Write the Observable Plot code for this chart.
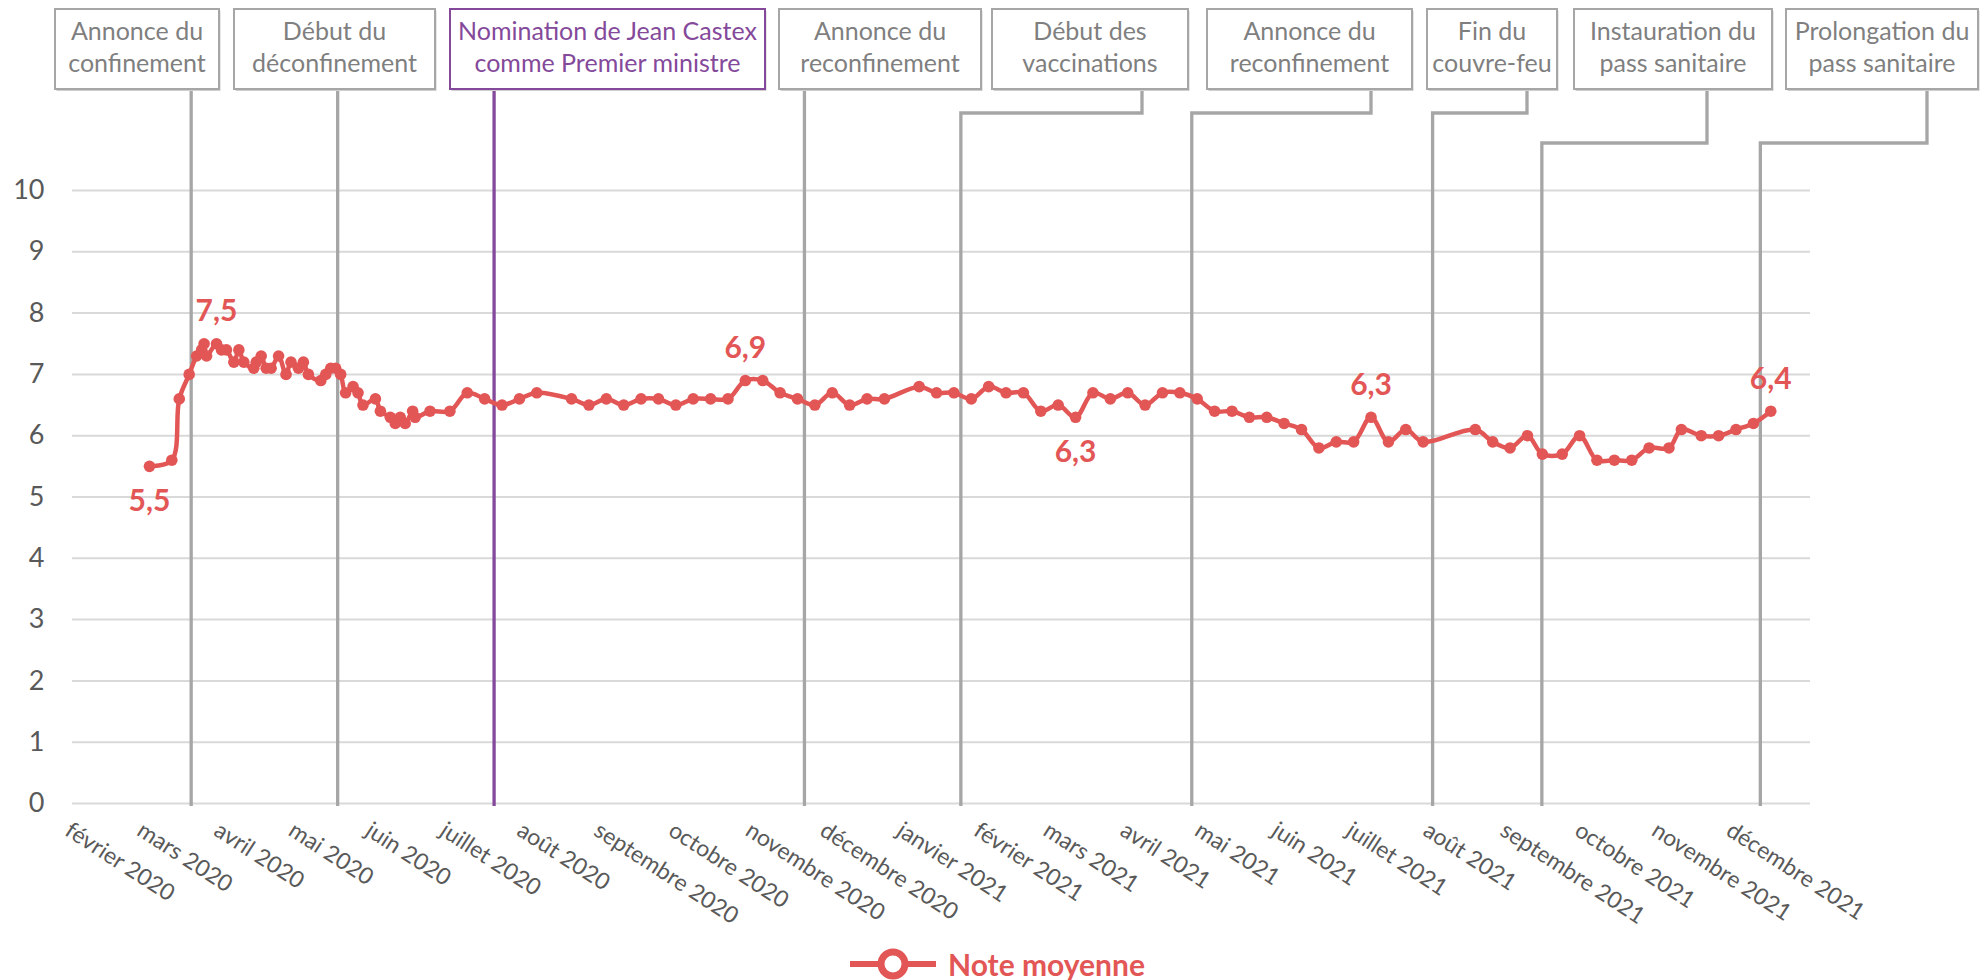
<!DOCTYPE html>
<html>
<head>
<meta charset="utf-8">
<script src="https://cdn.jsdelivr.net/npm/d3@7"></script>
<script src="https://cdn.jsdelivr.net/npm/@observablehq/plot@0.6"></script>
<style>
  html, body { margin: 0; padding: 0; background: #fff; }
  body { width: 1981px; height: 980px; position: relative; overflow: hidden; font-family: Lato, sans-serif; }
  #chart svg { display: block; }
  #legend { position: absolute; left: 850px; top: 947px; display: flex; align-items: center; height: 34px; }
  #legend span { margin-left: 12px; font: bold 30px Lato, sans-serif; color: #E35656; line-height: 34px; }
</style>
</head>
<body>
<div id="chart"></div>
<div id="legend"></div>
<script>
// ---------- data ----------
const dates = [
  "2020-03-03","2020-03-12","2020-03-15","2020-03-19","2020-03-22","2020-03-24","2020-03-25","2020-03-26","2020-03-30",
  "2020-04-01","2020-04-03","2020-04-06","2020-04-08","2020-04-10","2020-04-14","2020-04-15","2020-04-17","2020-04-19","2020-04-21","2020-04-24","2020-04-27","2020-04-29",
  "2020-05-02","2020-05-04","2020-05-06","2020-05-11","2020-05-13","2020-05-15","2020-05-17","2020-05-19","2020-05-21","2020-05-24","2020-05-26","2020-05-28",
  "2020-06-02","2020-06-04","2020-06-08","2020-06-10","2020-06-12","2020-06-14","2020-06-17","2020-06-18","2020-06-24",
  "2020-07-02","2020-07-09","2020-07-16","2020-07-23","2020-07-30",
  "2020-08-06","2020-08-20","2020-08-27",
  "2020-09-03","2020-09-10","2020-09-17","2020-09-24",
  "2020-10-01","2020-10-08","2020-10-15","2020-10-22","2020-10-29",
  "2020-11-05","2020-11-12","2020-11-19","2020-11-26",
  "2020-12-03","2020-12-10","2020-12-17","2020-12-24",
  "2021-01-07","2021-01-14","2021-01-21","2021-01-28",
  "2021-02-04","2021-02-11","2021-02-18","2021-02-25",
  "2021-03-04","2021-03-11","2021-03-18","2021-03-25",
  "2021-04-01","2021-04-08","2021-04-15","2021-04-22","2021-04-29",
  "2021-05-06","2021-05-13","2021-05-20","2021-05-27",
  "2021-06-03","2021-06-10","2021-06-17","2021-06-24",
  "2021-07-01","2021-07-08","2021-07-15","2021-07-22","2021-07-29",
  "2021-08-19","2021-08-26",
  "2021-09-02","2021-09-09","2021-09-15","2021-09-23","2021-09-30",
  "2021-10-07","2021-10-14","2021-10-21","2021-10-28",
  "2021-11-05","2021-11-10","2021-11-18","2021-11-25",
  "2021-12-02","2021-12-09","2021-12-16"
];
const values = [
  5.5,5.6,6.6,7.0,7.3,7.4,7.5,7.3,7.5,
  7.4,7.4,7.2,7.4,7.2,7.1,7.2,7.3,7.1,7.1,7.3,7.0,7.2,
  7.1,7.2,7.0,6.9,7.0,7.1,7.1,7.0,6.7,6.8,6.7,6.5,
  6.6,6.4,6.3,6.2,6.3,6.2,6.4,6.3,6.4,
  6.4,6.7,6.6,6.5,6.6,
  6.7,6.6,6.5,
  6.6,6.5,6.6,6.6,
  6.5,6.6,6.6,6.6,6.9,
  6.9,6.7,6.6,6.5,
  6.7,6.5,6.6,6.6,
  6.8,6.7,6.7,6.6,
  6.8,6.7,6.7,6.4,
  6.5,6.3,6.7,6.6,
  6.7,6.5,6.7,6.7,6.6,
  6.4,6.4,6.3,6.3,
  6.2,6.1,5.8,5.9,
  5.9,6.3,5.9,6.1,5.9,
  6.1,5.9,
  5.8,6.0,5.7,5.7,6.0,
  5.6,5.6,5.6,5.8,
  5.8,6.1,6.0,6.0,
  6.1,6.2,6.4
];
const seriesName = "Note moyenne";

// labelled points (value shown above or below the point)
const labelDates = ["2020-03-03","2020-03-30","2020-10-29","2021-03-11","2021-07-08","2021-12-16"];
const labelAbove = [false, true, true, false, true, true];

// x-axis tick labels
const monthTicks = [
  "2020-02-01","2020-03-01","2020-04-01","2020-05-01","2020-06-01","2020-07-01","2020-08-01","2020-09-01","2020-10-01","2020-11-01","2020-12-01",
  "2021-01-01","2021-02-01","2021-03-01","2021-04-01","2021-05-01","2021-06-01","2021-07-01","2021-08-01","2021-09-01","2021-10-01","2021-11-01","2021-12-01"
];
const monthLabels = [
  "février 2020","mars 2020","avril 2020","mai 2020","juin 2020","juillet 2020","août 2020","septembre 2020","octobre 2020","novembre 2020","décembre 2020",
  "janvier 2021","février 2021","mars 2021","avril 2021","mai 2021","juin 2021","juillet 2021","août 2021","septembre 2021","octobre 2021","novembre 2021","décembre 2021"
];
const yTicks = [0,1,2,3,4,5,6,7,8,9,10];

// events
const eventDates = ["2020-03-20","2020-05-18","2020-07-20","2020-11-22","2021-01-24","2021-04-27","2021-08-02","2021-09-15","2021-12-12"];
const eventLine1 = ["Annonce du","Début du","Nomination de Jean Castex","Annonce du","Début des","Annonce du","Fin du","Instauration du","Prolongation du"];
const eventLine2 = ["confinement","déconfinement","comme Premier ministre","reconfinement","vaccinations","reconfinement","couvre-feu","pass sanitaire","pass sanitaire"];
const eventHighlight = [false,false,true,false,false,false,false,false,false];

// ---------- layout / style (pixels) ----------
const W = 1981, H = 935;
const RED = "#E35656", GREY_LINE = "#A6A6A6", GREY_TEXT = "#7F7F7F", PURPLE = "#84499A", AXIS_TEXT = "#595959", GRID = "#D9D9D9";
// [boxLeft, boxRight, connectorX (null = straight down at the event), elbowY]
const boxLayout = [
  [55, 219, null, null],
  [234, 435, null, null],
  [450, 765, null, null],
  [779, 981, null, null],
  [992, 1188, 1142, 113],
  [1207, 1412, 1371, 113],
  [1427, 1557, 1527, 113],
  [1574, 1772, 1707, 143],
  [1786, 1978, 1927, 143]
];
const boxTop = 9, boxBottom = 89, lineBottom = 806;

// ---------- build ----------
const parse = d3.utcParse("%Y-%m-%d");
const series = dates.map((d, i) => ({date: parse(d), value: values[i], name: seriesName}));
const byDate = new Map(series.map(d => [+d.date, d]));
const labels = labelDates.map((d, i) => ({...byDate.get(+parse(d)), above: labelAbove[i]}));
const fmt = v => v.toFixed(1).replace(".", ",");
const ticks = monthTicks.map(parse);
const tickLabel = new Map(ticks.map((d, i) => [+d, monthLabels[i]]));

const chart = Plot.plot({
  width: W,
  height: H,
  marginTop: 190,
  marginBottom: 132,
  marginLeft: 72,
  marginRight: 171,
  style: {fontFamily: "Lato, sans-serif", background: "#fff", overflow: "visible"},
  x: {type: "utc", domain: [parse("2020-02-01"), parse("2022-01-01")]},
  y: {domain: [0, 10]},
  marks: [
    Plot.gridY(yTicks, {stroke: GRID, strokeOpacity: 1, strokeWidth: 2}),
    Plot.axisY(yTicks, {tickSize: 0, tickPadding: 28, fontSize: 27, color: AXIS_TEXT, label: null, tickFormat: d => String(d)}),
    Plot.axisX(ticks, {tickSize: 0, tickPadding: 17, tickRotate: 33, fontSize: 23, color: AXIS_TEXT, label: null,
      textAnchor: "start", lineAnchor: "top", tickFormat: d => tickLabel.get(+d)}),
    Plot.line(series, {x: "date", y: "value", stroke: RED, strokeWidth: 4.5, curve: "catmull-rom"}),
    Plot.dot(series, {x: "date", y: "value", r: 5.8, fill: RED, stroke: "none"}),
    Plot.text(labels.filter(d => d.above), {x: "date", y: "value", text: d => fmt(d.value), fill: RED, fontSize: 30, fontWeight: "bold", lineAnchor: "middle", dy: -32}),
    Plot.text(labels.filter(d => !d.above), {x: "date", y: "value", text: d => fmt(d.value), fill: RED, fontSize: 30, fontWeight: "bold", lineAnchor: "middle", dy: 35})
  ]
});
document.getElementById("chart").appendChild(chart);

// ---------- event annotations (boxes + connectors), x through the plot's scale ----------
const xs = chart.scale("x");
const svg = d3.select(chart);
const lineG = svg.select('g[aria-label="line"]');
const connG = lineG.empty() ? svg.append("g") : svg.insert("g", 'g[aria-label="line"]');
connG.attr("fill", "none").attr("stroke-width", 3.3);
const boxG = svg.append("g");

eventDates.forEach((d, i) => {
  const ex = xs.apply(parse(d));
  const [bl, br, cx, ey] = boxLayout[i];
  const color = eventHighlight[i] ? PURPLE : GREY_LINE;
  const textColor = eventHighlight[i] ? PURPLE : GREY_TEXT;
  const path = cx == null
    ? `M${ex},${boxBottom}V${lineBottom}`
    : `M${cx},${boxBottom}V${ey}H${ex}V${lineBottom}`;
  connG.append("path").attr("d", path).attr("stroke", color).attr("stroke-linejoin", "miter");

  boxG.append("rect")
    .attr("x", bl + 1.5).attr("y", boxTop + 2).attr("width", br - bl).attr("height", boxBottom - boxTop)
    .attr("fill", "#cfcfcf");
  boxG.append("rect")
    .attr("x", bl).attr("y", boxTop).attr("width", br - bl).attr("height", boxBottom - boxTop)
    .attr("fill", "#fff").attr("stroke", color).attr("stroke-width", 2);
  const t = boxG.append("text")
    .attr("text-anchor", "middle").attr("fill", textColor)
    .attr("font-family", "Lato, sans-serif").attr("font-size", 25);
  t.append("tspan").attr("x", (bl + br) / 2).attr("y", 40).text(eventLine1[i]);
  t.append("tspan").attr("x", (bl + br) / 2).attr("y", 72).text(eventLine2[i]);
});

// ---------- legend ----------
const leg = d3.select("#legend");
const ls = leg.append("svg").attr("width", 86).attr("height", 34);
ls.append("line").attr("x1", 0).attr("x2", 86).attr("y1", 17).attr("y2", 17).attr("stroke", RED).attr("stroke-width", 6);
ls.append("circle").attr("cx", 43).attr("cy", 17).attr("r", 12).attr("fill", "#fff").attr("stroke", RED).attr("stroke-width", 7);
leg.append("span").text(seriesName);
</script>
</body>
</html>
